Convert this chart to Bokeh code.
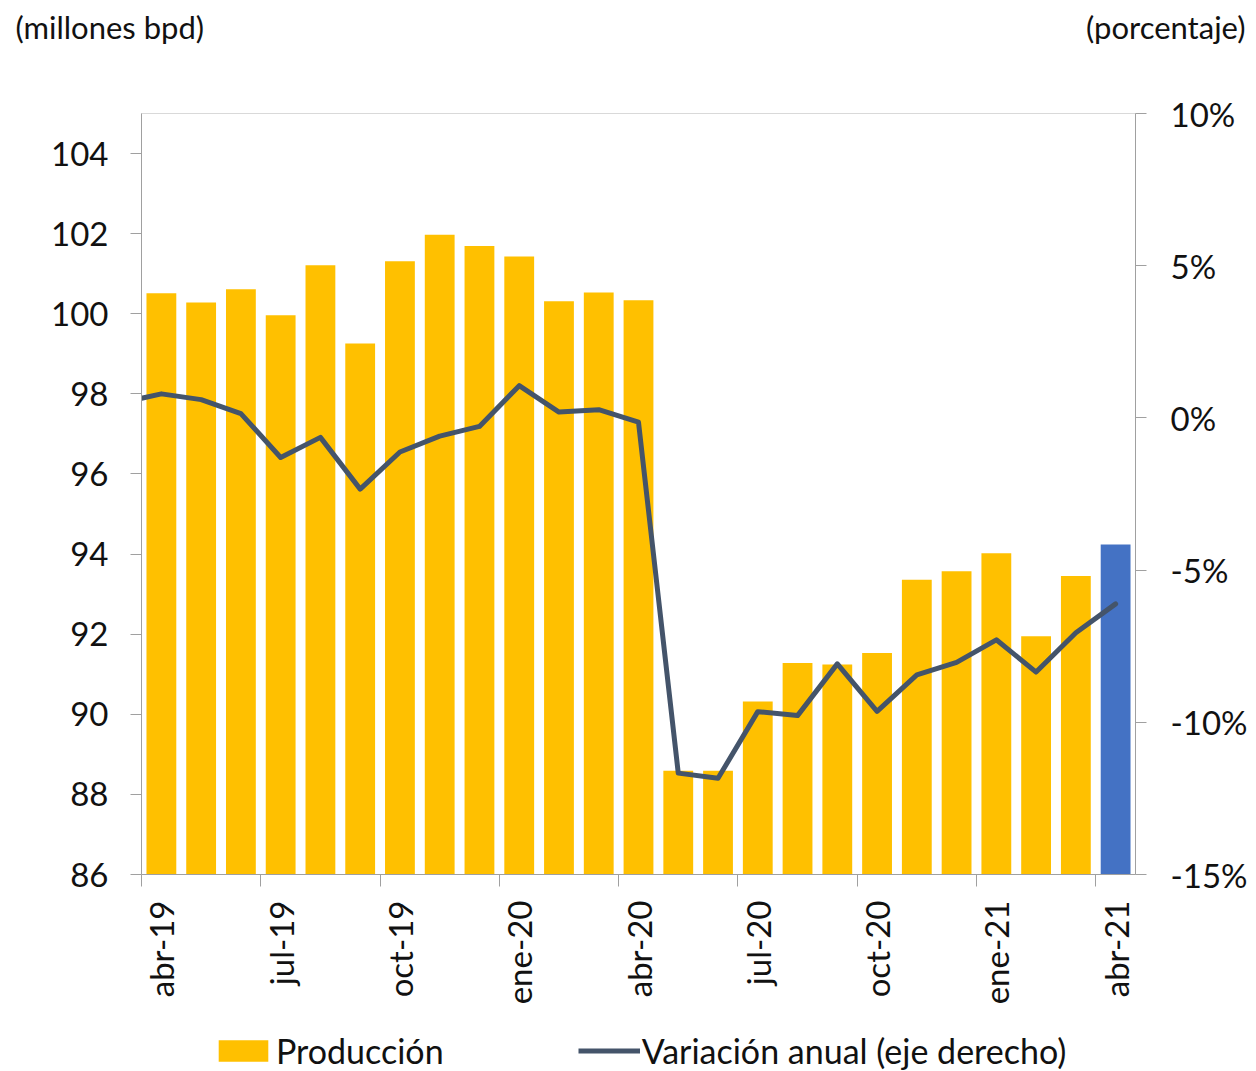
import math
from bokeh.plotting import figure
from bokeh.layouts import column
from bokeh.models import (Range1d, LinearAxis, FixedTicker, PrintfTickFormatter,
                          Legend, LegendItem, ColumnDataSource)
from bokeh.core.properties import value
from bokeh.embed import file_html
from bokeh.resources import INLINE

# ---------------- data ----------------
months = ["abr-19", "may-19", "jun-19", "jul-19", "ago-19", "sep-19", "oct-19",
          "nov-19", "dic-19", "ene-20", "feb-20", "mar-20", "abr-20", "may-20",
          "jun-20", "jul-20", "ago-20", "sep-20", "oct-20", "nov-20", "dic-20",
          "ene-21", "feb-21", "mar-21", "abr-21"]
production = [100.51, 100.28, 100.61, 99.96, 101.21, 99.26, 101.31,
              101.97, 101.69, 101.43, 100.31, 100.53, 100.34, 88.59,
              88.59, 90.32, 91.28, 91.24, 91.53, 93.36, 93.57,
              94.02, 91.95, 93.45, 94.24]
highlight_month = "abr-21"

# annual variation (%), series begins one month earlier (mar-19)
var_months = ["mar-19"] + months
variation = [0.50, 0.79, 0.60, 0.14, -1.30, -0.64, -2.34, -1.12,
             -0.60, -0.28, 1.06, 0.19, 0.27, -0.14, -11.67,
             -11.84, -9.65, -9.78, -8.08, -9.64, -8.44, -8.03,
             -7.29, -8.35, -7.06, -6.11]

tick_labels = ["abr-19", "jul-19", "oct-19", "ene-20", "abr-20",
               "jul-20", "oct-20", "ene-21", "abr-21"]
left_ticks = [86, 88, 90, 92, 94, 96, 98, 100, 102, 104]
left_range = (86, 105)
right_ticks = [-15, -10, -5, 0, 5, 10]
right_range = (-15, 10)

left_unit = "(millones bpd)"
right_unit = "(porcentaje)"
bar_name = "Producción"
line_name = "Variación anual (eje derecho)"

# ---------------- style ----------------
FONT = "Lato"
YELLOW = "#FFC000"
BLUE = "#4472C4"
LINE = "#44546A"
AXIS = "#A0A0A0"
TXT = "#111111"
TICK_FS = "33px"
W = 1256
HEADER_H = 73
MAIN_TOP = 40
FOOTER_H = 62


def bare(fig):
    fig.xgrid.visible = False
    fig.ygrid.visible = False
    fig.outline_line_color = None
    fig.background_fill_color = "white"
    fig.border_fill_color = "white"


# ---------------- header (unit labels) ----------------
header = figure(width=W, height=HEADER_H, x_range=Range1d(0, W),
                y_range=Range1d(HEADER_H, 0), x_axis_location=None,
                y_axis_location=None, output_backend="svg",
                toolbar_location=None, min_border=0, frame_align=False)
bare(header)
header.text(x=[15], y=[26], text=[left_unit], text_align="left",
            text_baseline="middle", text_font=value(FONT),
            text_font_size="31px", text_color=TXT)
header.text(x=[1245], y=[26], text=[right_unit], text_align="right",
            text_baseline="middle", text_font=value(FONT),
            text_font_size="31px", text_color=TXT)

# ---------------- main chart ----------------
xs = list(range(len(months)))
bar_colors = [BLUE if m == highlight_month else YELLOW for m in months]
bar_src = ColumnDataSource(dict(x=xs, top=production, color=bar_colors))
var_x = [i - 1 for i in range(len(var_months))]
line_src = ColumnDataSource(dict(x=var_x, y=variation))

p = figure(frame_width=994, frame_height=761,
           x_range=Range1d(-0.5, len(months) - 0.5),
           y_range=Range1d(*left_range),
           output_backend="svg", toolbar_location=None,
           min_border_left=141, min_border_right=121,
           min_border_top=MAIN_TOP, min_border_bottom=135, frame_align=False)
p.extra_y_ranges = {"pct": Range1d(*right_range)}
bare(p)
p.outline_line_color = "#D9D9D9"
p.outline_line_width = 1

bars = p.vbar(x="x", top="top", bottom=left_range[0], width=0.75,
              fill_color="color", line_color=None, source=bar_src)
line = p.line(x="x", y="y", source=line_src, y_range_name="pct",
              line_color=LINE, line_width=5, line_join="round", line_cap="round")

# left axis
ya = p.yaxis[0]
ya.ticker = FixedTicker(ticks=left_ticks)
ya.axis_line_color = AXIS
ya.major_tick_line_color = AXIS
ya.major_tick_out = 11
ya.major_tick_in = 0
ya.minor_tick_line_color = None
ya.major_label_standoff = 22
ya.major_label_text_font = FONT
ya.major_label_text_font_size = TICK_FS
ya.major_label_text_color = TXT

# right axis
ra = LinearAxis(y_range_name="pct", ticker=FixedTicker(ticks=right_ticks),
                formatter=PrintfTickFormatter(format="%d%%"))
ra.axis_line_color = AXIS
ra.major_tick_line_color = AXIS
ra.major_tick_out = 11
ra.major_tick_in = 0
ra.minor_tick_line_color = None
ra.major_label_standoff = 24
ra.major_label_text_font = FONT
ra.major_label_text_font_size = TICK_FS
ra.major_label_text_color = TXT
p.add_layout(ra, "right")

# bottom axis 1: tick marks at category boundaries
label_pos = [months.index(t) for t in tick_labels]
xa = p.xaxis[0]
xa.ticker = FixedTicker(ticks=[i - 0.5 for i in label_pos])
xa.axis_line_color = AXIS
xa.major_tick_line_color = AXIS
xa.major_tick_out = 12
xa.major_tick_in = 0
xa.minor_tick_line_color = None
xa.major_label_text_font_size = "1px"
xa.major_label_text_alpha = 0
xa.major_label_standoff = 0
xa.major_label_overrides = {i - 0.5: "" for i in label_pos}

# bottom axis 2: labels centred on bars
xl = LinearAxis(ticker=FixedTicker(ticks=label_pos))
xl.major_label_overrides = {i: t for i, t in zip(label_pos, tick_labels)}
xl.axis_line_color = None
xl.major_tick_line_color = None
xl.major_tick_out = 0
xl.major_tick_in = 0
xl.minor_tick_line_color = None
xl.major_label_orientation = math.pi / 2
xl.major_label_standoff = 14
xl.major_label_text_font = FONT
xl.major_label_text_font_size = TICK_FS
xl.major_label_text_color = TXT
p.add_layout(xl, "below")

# ---------------- footer (legend) ----------------
# legend keys reuse the real series; the footer's ranges keep them out of view
n = len(months)
top_val = max(production)
footer = figure(width=W, height=FOOTER_H, x_range=Range1d(n + 5, n + 6),
                y_range=Range1d(top_val + 50, top_val + 51),
                x_axis_location=None, y_axis_location=None, output_backend="svg",
                toolbar_location=None, min_border=0, frame_align=False)
bare(footer)
footer.extra_y_ranges = {"pct": Range1d(right_range[1] + 50, right_range[1] + 51)}
key_bar = footer.vbar(x="x", top="top", bottom=left_range[0], width=0.75,
                      fill_color="color", line_color=None, source=bar_src)
key_line = footer.line(x="x", y="y", source=line_src, y_range_name="pct",
                       line_color=LINE, line_width=5)
legend = Legend(items=[LegendItem(label=bar_name, renderers=[key_bar], index=0),
                       LegendItem(label=line_name, renderers=[key_line])],
                orientation="horizontal", location=(212, 0),
                border_line_color=None, background_fill_alpha=0,
                label_text_font=FONT, label_text_font_size="34px",
                label_text_color=TXT,
                glyph_width=62, glyph_height=27, label_standoff=2,
                spacing=134, padding=0, margin=0)
footer.add_layout(legend, "center")

layout = column(header, p, footer, spacing=0)
open("out.html", "w").write(file_html(layout, INLINE))
